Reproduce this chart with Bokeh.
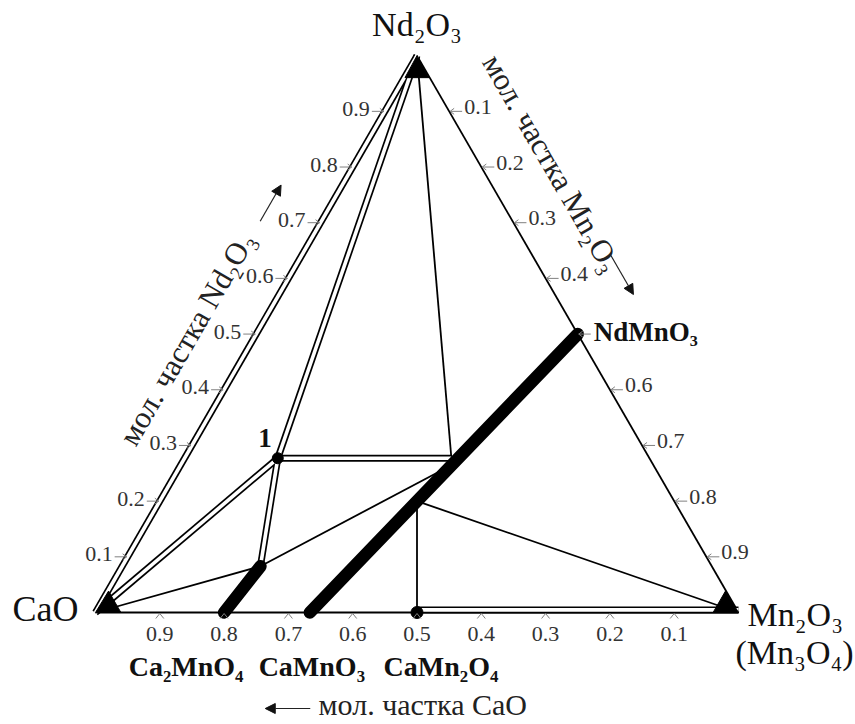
import math
from bokeh.plotting import figure
from bokeh.models import Range1d, ColumnDataSource, Arrow, NormalHead
from bokeh.core.properties import value
from bokeh.embed import file_html
from bokeh.resources import INLINE

# ---------------- data (mole fractions: Mn2O3 = m, Nd2O3 = n, CaO = 1-m-n) ----------------
vertex_labels = ["CaO", "Mn₂O₃", "Nd₂O₃"]
vertex_mn = [0.0, 1.0, 0.0]
vertex_nd = [0.0, 0.0, 1.0]

phase_labels = ["Ca₂MnO₄", "CaMnO₃", "CaMn₂O₄", "NdMnO₃"]
phase_mn = [0.2, 1 / 3, 0.5, 0.5]
phase_nd = [0.0, 0.0, 0.0, 0.5]

point1_mn, point1_nd = 0.145, 0.277        # phase "1"
ss214_end_mn, ss214_end_nd = 0.215, 0.083  # end of Ca2-xNdxMnO4 solid solution
j1_mn, j1_nd = 0.415, 0.277                # tie points on the CaMnO3-NdMnO3 solid solution
j2_mn, j2_nd = 0.416, 0.260
j3_mn, j3_nd = 0.400, 0.200

tick_values = [0.1, 0.2, 0.3, 0.4, 0.5, 0.6, 0.7, 0.8, 0.9]
tick_labels = ["0.1", "0.2", "0.3", "0.4", "0.5", "0.6", "0.7", "0.8", "0.9"]
right_skip = ["0.5"]

# ---------------- geometry ----------------
H = math.sqrt(3) / 2
PX = 1 / 643.0  # data units per pixel (style offsets)
BASE = 0.38     # em shift that puts the drawn glyph baseline where intended


def cart(m, n):
    return m + n / 2, n * H


pts = {
    "CaO": cart(vertex_mn[0], vertex_nd[0]),
    "Mn2O3": cart(vertex_mn[1], vertex_nd[1]),
    "Nd2O3": cart(vertex_mn[2], vertex_nd[2]),
    "Ca2MnO4": cart(phase_mn[0], phase_nd[0]),
    "CaMnO3": cart(phase_mn[1], phase_nd[1]),
    "CaMn2O4": cart(phase_mn[2], phase_nd[2]),
    "NdMnO3": cart(phase_mn[3], phase_nd[3]),
    "P1": cart(point1_mn, point1_nd),
    "S": cart(ss214_end_mn, ss214_end_nd),
    "J1": cart(j1_mn, j1_nd),
    "J2": cart(j2_mn, j2_nd),
    "J3": cart(j3_mn, j3_nd),
}

single_lines = [("Nd2O3", "Mn2O3"), ("CaO", "Mn2O3"), ("CaO", "S"), ("S", "J2"),
                ("Nd2O3", "J1"), ("CaMn2O4", "J3"), ("J3", "Mn2O3")]
double_lines = [("CaO", "Nd2O3"), ("CaO", "P1"), ("P1", "Nd2O3"), ("P1", "S"),
                ("P1", "J1"), ("CaMn2O4", "Mn2O3")]
bold_lines = [("Ca2MnO4", "S"), ("CaMnO3", "NdMnO3")]

p = figure(width=855, height=724,
           x_range=Range1d(-95 * PX, 760 * PX), y_range=Range1d(-112 * PX, 612 * PX),
           output_backend="svg", toolbar_location=None, min_border=0,
           x_axis_location=None, y_axis_location=None)
p.grid.visible = False
p.outline_line_color = None
p.background_fill_color = "white"
p.border_fill_color = "white"

FONT = value("Liberation Serif")


def seg_xy(pairs, dy=None):
    xs, ys = [], []
    for k, (a, b) in enumerate(pairs):
        (x0, y0), (x1, y1) = pts[a], pts[b]
        off = dy[k] if dy else 0.0
        xs.append([x0, x1])
        ys.append([y0 + off, y1 + off])
    return xs, ys


# single lines
xs, ys = seg_xy(single_lines)
p.multi_line(xs, ys, line_color="black", line_width=1.8)

# double lines (black core + white inner)
dbl_off = [0, 0, 0, 0, 0, 2.6 * PX]
xs, ys = seg_xy(double_lines, dbl_off)
p.multi_line(xs, ys, line_color="black", line_width=7)
p.multi_line(xs, ys, line_color="white", line_width=3.6)

# bold solid-solution lines
xs, ys = seg_xy(bold_lines)
p.multi_line(xs, ys, line_color="black", line_width=12.5, line_cap="round")

# dots
p.scatter([pts["P1"][0]], [pts["P1"][1]], size=11, color="black")
p.scatter([pts["CaMn2O4"][0]], [pts["CaMn2O4"][1]], size=12, color="black")

# vertex arrowhead markers
cx, cy = 0.5, H / 3
tri_x, tri_y = [], []
for key in ["CaO", "Mn2O3", "Nd2O3"]:
    vx, vy = pts[key]
    dx, dy = cx - vx, cy - vy
    L = math.hypot(dx, dy)
    ux, uy = dx / L, dy / L
    hgt, half = 22 * PX, 12 * PX
    bx, by = vx + ux * hgt, vy + uy * hgt
    tri_x.append([vx, bx - uy * half, bx + uy * half])
    tri_y.append([vy, by + ux * half, by - ux * half])
p.patches(tri_x, tri_y, fill_color="black", line_color="black", line_width=1)

# tick marks
TICK = "#808080"
tx0, ty0, tx1, ty1 = [], [], [], []
for i, v in enumerate(tick_values):
    # bottom (CaO fraction v)
    bx = 1 - v
    for s in (-1, 1):
        tx0.append(bx); ty0.append(-1 * PX); tx1.append(bx + s * 4 * PX); ty1.append(-6 * PX)
    # left (Nd2O3 fraction v)
    lx, ly = cart(0, v)
    tx0.append(lx - 13 * PX); ty0.append(ly); tx1.append(lx - 1 * PX); ty1.append(ly)
    for s in (-1, 1):
        tx0.append(lx - 1 * PX); ty0.append(ly); tx1.append(lx - 5 * PX); ty1.append(ly + s * 3 * PX)
    # right (Mn2O3 fraction v)
    rx, ry = cart(v, 1 - v)
    tx0.append(rx + 1 * PX); ty0.append(ry); tx1.append(rx + 13 * PX); ty1.append(ry)
    for s in (-1, 1):
        tx0.append(rx + 1 * PX); ty0.append(ry); tx1.append(rx + 5 * PX); ty1.append(ry + s * 3 * PX)
p.segment(tx0, ty0, tx1, ty1, line_color=TICK, line_width=1)

# tick labels
TS = 22
sh = BASE * TS * PX
bl = ColumnDataSource(dict(x=[1 - v for v in tick_values], y=[-30 * PX + sh] * len(tick_values), t=tick_labels))
p.text("x", "y", text="t", source=bl, text_font=FONT, text_font_size=f"{TS}px",
       text_align="center", text_baseline="alphabetic", text_color="#333333")
ll = ColumnDataSource(dict(x=[cart(0, v)[0] - 15 * PX for v in tick_values],
                           y=[cart(0, v)[1] - 6 * PX + sh for v in tick_values], t=tick_labels))
p.text("x", "y", text="t", source=ll, text_font=FONT, text_font_size=f"{TS}px",
       text_align="right", text_baseline="alphabetic", text_color="#333333")
rv = [v for v, t in zip(tick_values, tick_labels) if t not in right_skip]
rt = [t for t in tick_labels if t not in right_skip]
rl = ColumnDataSource(dict(x=[cart(v, 1 - v)[0] + 15 * PX for v in rv],
                           y=[cart(v, 1 - v)[1] - 4 * PX + sh for v in rv], t=rt))
p.text("x", "y", text="t", source=rl, text_font=FONT, text_font_size=f"{TS}px",
       text_align="left", text_baseline="alphabetic", text_color="#333333")


def label(x, y, t, size, align="center", baseline="alphabetic", angle=0.0, bold=False, color="#111111"):
    if baseline == "alphabetic":
        y = y + BASE * size * PX
    p.text(x=[x], y=[y], text=[t], text_font=FONT, text_font_size=f"{size}px",
           text_align=align, text_baseline=baseline, angle=angle,
           text_font_style="bold" if bold else "normal", text_color=color)


# vertex labels
label(pts["CaO"][0] - 17 * PX, pts["CaO"][1] - 10 * PX, vertex_labels[0], 36, align="right")
label(pts["Mn2O3"][0] + 9 * PX, pts["Mn2O3"][1] - 15 * PX, vertex_labels[1], 34, align="left")
label(pts["Mn2O3"][0] - 3 * PX, pts["Mn2O3"][1] - 53 * PX, "(Mn₃O₄)", 34, align="left")
label(pts["Nd2O3"][0], pts["Nd2O3"][1] + 18 * PX, vertex_labels[2], 34, align="center")

# phase labels
phase_dx = [-38, 2, 24]
for k in range(3):
    label(pts[["Ca2MnO4", "CaMnO3", "CaMn2O4"][k]][0] + phase_dx[k] * PX, -65 * PX,
          phase_labels[k], 28, bold=True)
label(pts["NdMnO3"][0] + 16 * PX, pts["NdMnO3"][1] - 8 * PX, phase_labels[3], 27, align="left", bold=True)
label(pts["P1"][0] - 6 * PX, pts["P1"][1] + 10 * PX, "1", 27, align="right", bold=True)

# axis titles
nl = (-math.sqrt(3) / 2, 0.5)   # outward normal of left edge
nr = (math.sqrt(3) / 2, 0.5)    # outward normal of right edge
lx, ly = cart(0, 0.44)
label(lx + nl[0] * 58 * PX, ly + nl[1] * 58 * PX, "мол. частка Nd₂O₃", 31,
      baseline="middle", angle=math.pi / 3, color="#222222")
rx, ry = cart(0.25, 0.75)
label(rx + nr[0] * 63 * PX, ry + nr[1] * 63 * PX, "мол. частка Mn₂O₃", 31,
      baseline="middle", angle=-math.pi / 3, color="#222222")
label(0.347, -103 * PX, "мол. частка CaO", 30, align="left", color="#222222")

# arrows
a0 = cart(0, 0.655); a1 = cart(0, 0.72)
p.add_layout(Arrow(x_start=a0[0] + nl[0] * 53 * PX, y_start=a0[1] + nl[1] * 53 * PX,
                   x_end=a1[0] + nl[0] * 53 * PX, y_end=a1[1] + nl[1] * 53 * PX,
                   line_width=1.2, line_color="#222222",
                   end=NormalHead(size=10, fill_color="#111111", line_color="#111111")))
b0 = cart(0.42, 0.58); b1 = cart(0.49, 0.51)
p.add_layout(Arrow(x_start=b0[0] + nr[0] * 68 * PX, y_start=b0[1] + nr[1] * 68 * PX,
                   x_end=b1[0] + nr[0] * 68 * PX, y_end=b1[1] + nr[1] * 68 * PX,
                   line_width=1.2, line_color="#222222",
                   end=NormalHead(size=10, fill_color="#111111", line_color="#111111")))
p.add_layout(Arrow(x_start=0.334, y_start=-96 * PX, x_end=0.264, y_end=-96 * PX,
                   line_width=1.2, line_color="#222222",
                   end=NormalHead(size=10, fill_color="#111111", line_color="#111111")))

open("out.html", "w").write(file_html(p, INLINE))
